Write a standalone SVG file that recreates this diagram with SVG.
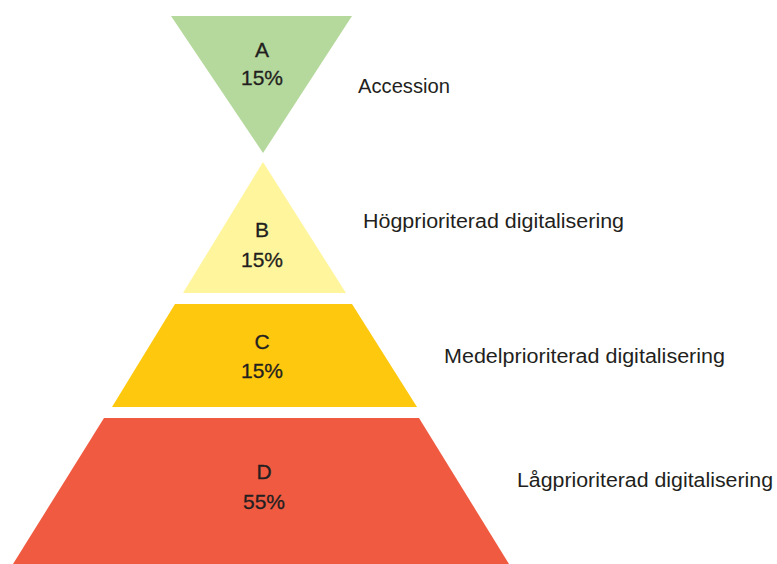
<svg xmlns="http://www.w3.org/2000/svg" width="777" height="564" viewBox="0 0 777 564">
<style>
  .lbl { font-family: "Liberation Sans", Arial, sans-serif; font-size: 21px; fill: #231f20; text-anchor: middle; stroke: #231f20; stroke-width: 0.3px; }
  .side { font-family: "Liberation Sans", Arial, sans-serif; font-size: 20px; fill: #231f20; }
</style>
<rect width="777" height="564" fill="#ffffff"/>
<g id="nodeA">
  <polygon points="171,16 352,16 263,153" fill="#b5d99c"/>
  <text class="lbl" x="262" y="57">A</text>
  <text class="lbl" x="262" y="85">15%</text>
</g>
<g id="nodeB">
  <polygon points="263,162 346,293 183,293" fill="#fff59d"/>
  <text class="lbl" x="262" y="237">B</text>
  <text class="lbl" x="262" y="267">15%</text>
</g>
<g id="nodeC">
  <polygon points="175,304 352,304 417,407 112,407" fill="#fec80e"/>
  <text class="lbl" x="262" y="349">C</text>
  <text class="lbl" x="262" y="378">15%</text>
</g>
<g id="nodeD">
  <polygon points="104,418 419,418 509,564 13,564" fill="#f05a40"/>
  <text class="lbl" x="264" y="479">D</text>
  <text class="lbl" x="264" y="509">55%</text>
</g>
<g id="labels">
  <text class="side" x="358" y="93" textLength="92" lengthAdjust="spacingAndGlyphs">Accession</text>
  <text class="side" x="363" y="228" textLength="261" lengthAdjust="spacingAndGlyphs">Högprioriterad digitalisering</text>
  <text class="side" x="444" y="363" textLength="281" lengthAdjust="spacingAndGlyphs">Medelprioriterad digitalisering</text>
  <text class="side" x="517" y="487" textLength="256" lengthAdjust="spacingAndGlyphs">Lågprioriterad digitalisering</text>
</g>
<g id="connectors"></g>
</svg>
